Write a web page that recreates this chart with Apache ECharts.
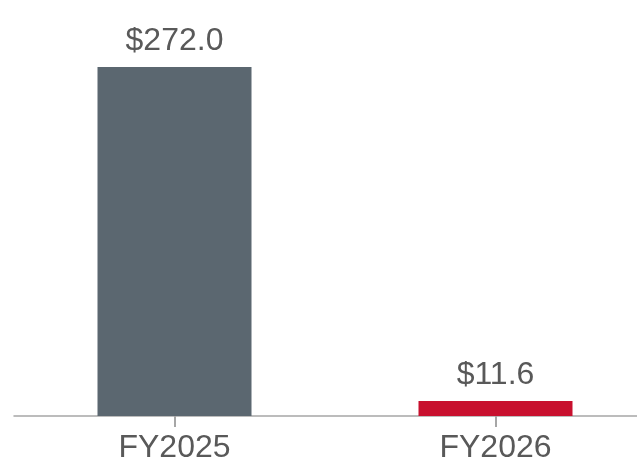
<!DOCTYPE html>
<html>
<head>
<meta charset="utf-8">
<script src="https://cdn.jsdelivr.net/npm/echarts@6/dist/echarts.min.js"></script>
<style>
  html, body { margin: 0; padding: 0; background: #fff; }
  #chart { width: 637px; height: 466px; }
</style>
</head>
<body>
<div id="chart"></div>
<script>
// categories and values
var years = ['FY2025', 'FY2026']
var values = [272.0, 11.6]
var barColors = ['#5b6770', '#c8102e']

var myChart = echarts.init(document.getElementById('chart'))

myChart.setOption({
  animation: false,
  grid: {
    left: 14,
    width: 642,
    top: 31,
    height: 385,
    containLabel: false,
    outerBoundsMode: 'none'
  },
  xAxis: {
    type: 'category',
    data: years,
    axisLine: { lineStyle: { color: '#a6a6a6', width: 1.5 } },
    axisTick: { show: true, alignWithLabel: true, length: 11, lineStyle: { color: '#a6a6a6', width: 2 } },
    axisLabel: {
      color: '#595959',
      fontSize: 32,
      fontFamily: 'Liberation Sans, Arial, sans-serif',
      margin: 16
    }
  },
  yAxis: {
    type: 'value',
    min: 0,
    max: 300,
    show: false,
    splitLine: { show: false }
  },
  series: [{
    type: 'bar',
    barWidth: 154,
    data: values.map(function (v, i) {
      return { value: v, itemStyle: { color: barColors[i] } }
    }),
    label: {
      show: true,
      position: 'top',
      distance: 10,
      color: '#595959',
      fontSize: 32,
      fontFamily: 'Liberation Sans, Arial, sans-serif',
      formatter: function (p) {
        return '$' + p.value.toFixed(1)
      }
    }
  }]
})
</script>
</body>
</html>
